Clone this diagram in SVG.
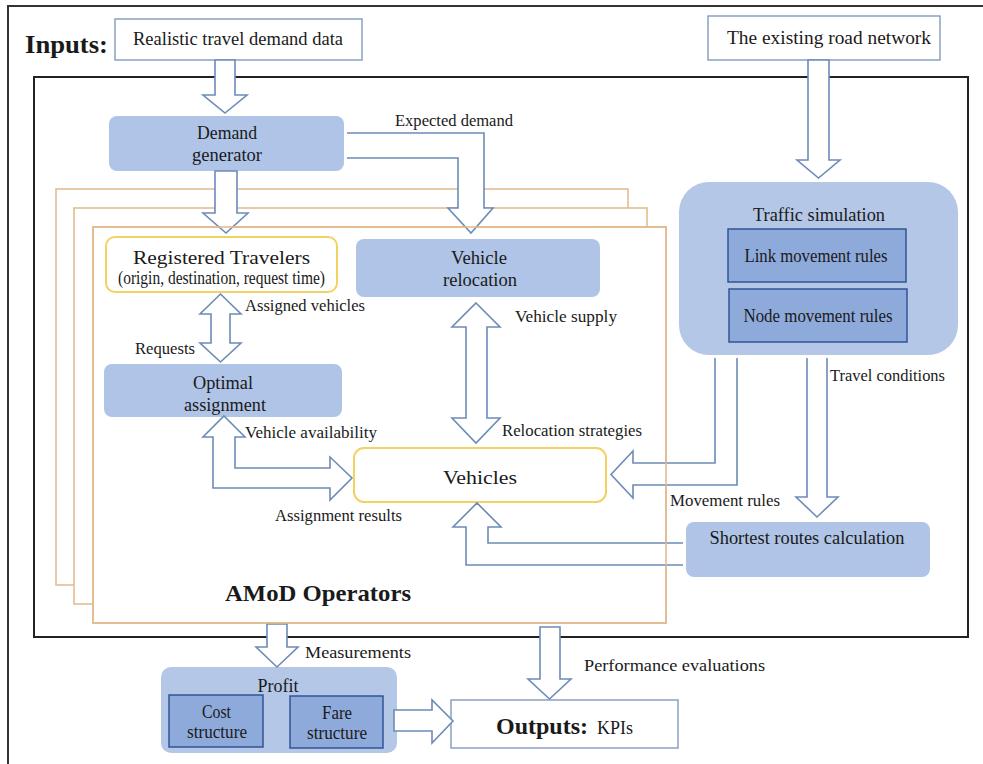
<svg xmlns="http://www.w3.org/2000/svg" width="983" height="764" viewBox="0 0 983 764">
<style>
text{font-family:"Liberation Serif","Times New Roman",serif;fill:#1a1a1a}
.t{font-size:18px;text-anchor:middle}
.lb{font-size:16.5px}
.bold{font-weight:bold}
.io{fill:#fff;stroke:#8aa0c4;stroke-width:1.5}
.blue{fill:#afc4e6;stroke:none}
.lite{fill:#b4c7e7;stroke:none}
.dark{fill:#8eaadb;stroke:#2f5597;stroke-width:1.5}
.yel{fill:#fff;stroke:#f2d262;stroke-width:2}
.fr{fill:#fff;stroke:#e2b98c;stroke-width:1.5}
.arr{fill:#fff;stroke:#6d8bb8;stroke-width:1.6;stroke-linejoin:miter}
</style>
<rect x="8" y="6" width="1000" height="800" fill="#fff" stroke="#333" stroke-width="2"/>
<rect x="34" y="77" width="934" height="560" fill="#fff" stroke="#222" stroke-width="2"/>

<g id="frames">
<rect class="fr" x="56" y="189" width="572" height="396"/>
<rect class="fr" x="74" y="208" width="573" height="396"/>
<rect class="fr" x="93" y="227" width="573" height="396"/>
</g>

<g id="inputs">
<text class="bold" x="25" y="53" font-size="26" textLength="83" lengthAdjust="spacingAndGlyphs">Inputs:</text>
</g>
<g id="realistic">
<rect class="io" x="115" y="19" width="247" height="41"/>
<text class="t" x="238" y="45" font-size="17" textLength="210" lengthAdjust="spacingAndGlyphs">Realistic travel demand data</text>
</g>
<g id="road">
<rect class="io" x="708" y="16" width="232" height="44"/>
<text class="t" x="829" y="44" font-size="17" textLength="204" lengthAdjust="spacingAndGlyphs">The existing road network</text>
</g>
<g id="demand">
<rect class="blue" x="109" y="116" width="235" height="55" rx="8"/>
<text class="t" x="227" y="139" textLength="60" lengthAdjust="spacingAndGlyphs">Demand</text>
<text class="t" x="227" y="161" textLength="70" lengthAdjust="spacingAndGlyphs">generator</text>
</g>
<g id="registered">
<rect class="yel" x="106" y="237" width="231" height="55" rx="9"/>
<text class="t" x="221.5" y="264" font-size="22" textLength="177" lengthAdjust="spacingAndGlyphs">Registered Travelers</text>
<text class="t" x="221.5" y="284" font-size="14.5" textLength="207" lengthAdjust="spacingAndGlyphs">(origin, destination, request time)</text>
</g>
<g id="relocation">
<rect class="blue" x="356" y="239" width="244" height="58" rx="8"/>
<text class="t" x="479" y="264" font-size="19" textLength="56" lengthAdjust="spacingAndGlyphs">Vehicle</text>
<text class="t" x="480" y="286" font-size="19" textLength="74" lengthAdjust="spacingAndGlyphs">relocation</text>
</g>
<g id="optimal">
<rect class="blue" x="104" y="364" width="238" height="53" rx="8"/>
<text class="t" x="223" y="389" textLength="60" lengthAdjust="spacingAndGlyphs">Optimal</text>
<text class="t" x="225" y="411" textLength="82" lengthAdjust="spacingAndGlyphs">assignment</text>
</g>
<g id="vehicles">
<rect class="yel" x="354" y="448" width="252" height="54" rx="10"/>
<text class="t" x="480" y="484" font-size="23" textLength="74" lengthAdjust="spacingAndGlyphs">Vehicles</text>
</g>
<g id="traffic">
<rect class="lite" x="679" y="182" width="279" height="173" rx="30"/>
<text class="t" x="819" y="221" textLength="132" lengthAdjust="spacingAndGlyphs">Traffic simulation</text>
</g>
<g id="link">
<rect class="dark" x="728" y="229" width="178" height="53"/>
<text class="t" x="816" y="262" font-size="17" textLength="143" lengthAdjust="spacingAndGlyphs">Link movement rules</text>
</g>
<g id="node">
<rect class="dark" x="729" y="289" width="178" height="53"/>
<text class="t" x="818" y="322" font-size="17" textLength="149" lengthAdjust="spacingAndGlyphs">Node movement rules</text>
</g>
<g id="shortest">
<rect class="blue" x="686" y="522" width="244" height="55" rx="8"/>
<text class="t" x="807" y="544" textLength="195" lengthAdjust="spacingAndGlyphs">Shortest routes calculation</text>
</g>
<g id="amod">
<text class="bold" x="318" y="601" font-size="24" text-anchor="middle" textLength="186" lengthAdjust="spacingAndGlyphs">AMoD Operators</text>
</g>
<g id="profit">
<rect class="lite" x="161" y="667" width="236" height="86" rx="10"/>
<text class="t" x="278" y="692" textLength="41" lengthAdjust="spacingAndGlyphs">Profit</text>
</g>
<g id="cost">
<rect class="dark" x="169" y="695" width="94" height="52"/>
<text class="t" x="216.5" y="718" font-size="17" textLength="29" lengthAdjust="spacingAndGlyphs">Cost</text>
<text class="t" x="217" y="738" font-size="17" textLength="60" lengthAdjust="spacingAndGlyphs">structure</text>
</g>
<g id="fare">
<rect class="dark" x="290" y="696" width="93" height="52"/>
<text class="t" x="337" y="719" font-size="17" textLength="30" lengthAdjust="spacingAndGlyphs">Fare</text>
<text class="t" x="337" y="739" font-size="17" textLength="60" lengthAdjust="spacingAndGlyphs">structure</text>
</g>
<g id="outputs">
<rect class="io" x="451" y="700" width="227" height="48"/>
<text x="496" y="734" font-size="24" class="bold" textLength="92" lengthAdjust="spacingAndGlyphs">Outputs:</text>
<text x="597" y="734" font-size="18" textLength="36" lengthAdjust="spacingAndGlyphs">KPIs</text>
</g>

<g id="connectors">
<path class="arr" d="M215,60 L235,60 L235,95 L247,95 L225,113 L203,95 L215,95 Z"/>
<path class="arr" d="M215,171 L237,171 L237,213 L248,213 L226,233 L203,213 L215,213 Z"/>
<path class="arr" d="M347,133 L484,133 L484,208 L493,208 L471,233 L448,208 L458,208 L458,158 L347,158"/>
<path class="arr" d="M220.5,294 L241,314 L230,314 L230,343 L241,343 L220.5,362 L200,343 L211,343 L211,314 L200,314 Z"/>
<path class="arr" d="M224,416 L245,437 L235,437 L235,468 L330,468 L330,457 L352,478 L330,500 L330,488 L213,488 L213,437 L203,437 Z"/>
<path class="arr" d="M476,303 L500,327 L487,327 L487,418 L500,418 L476,443 L452,418 L466,418 L466,327 L452,327 Z"/>
<path class="arr" d="M808,60 L829,60 L829,160 L840,160 L818.5,178 L797,160 L808,160 Z"/>
<path class="arr" d="M715,358 L715,463 L633,463 L633,451 L611,474.5 L633,498 L633,485 L737,485 L737,358"/>
<path class="arr" d="M807,358 L807,497 L796,497 L817,517 L838,497 L827,497 L827,358"/>
<path class="arr" d="M683,543 L488,543 L488,527 L501,527 L477,503 L453,527 L466,527 L466,565 L683,565"/>
<path class="arr" d="M267,624 L287,624 L287,647 L298,647 L277,667 L256,647 L267,647 Z"/>
<path class="arr" d="M540,627 L560,627 L560,679 L571,679 L549.5,699 L528,679 L540,679 Z"/>
<path class="arr" d="M394,710 L432,710 L432,700 L453,721 L432,743 L432,731 L394,731 Z"/>
<rect x="93" y="227" width="573" height="396" fill="none" stroke="#e2b98c" stroke-width="1.5"/>
</g>

<g id="labels">
<text class="lb" x="395" y="126" textLength="118" lengthAdjust="spacingAndGlyphs">Expected demand</text>
<text class="lb" x="245" y="311" textLength="120" lengthAdjust="spacingAndGlyphs">Assigned vehicles</text>
<text class="lb" x="135" y="354" textLength="60" lengthAdjust="spacingAndGlyphs">Requests</text>
<text class="lb" x="515" y="322" textLength="102" lengthAdjust="spacingAndGlyphs">Vehicle supply</text>
<text class="lb" x="245" y="438" textLength="132" lengthAdjust="spacingAndGlyphs">Vehicle availability</text>
<text class="lb" x="502" y="436" textLength="140" lengthAdjust="spacingAndGlyphs">Relocation strategies</text>
<text class="lb" x="275" y="521" textLength="127" lengthAdjust="spacingAndGlyphs">Assignment results</text>
<text class="lb" x="830" y="381" textLength="115" lengthAdjust="spacingAndGlyphs">Travel conditions</text>
<text class="lb" x="670" y="506" textLength="110" lengthAdjust="spacingAndGlyphs">Movement rules</text>
<text class="lb" x="305" y="658" textLength="106" lengthAdjust="spacingAndGlyphs">Measurements</text>
<text class="lb" x="584" y="671" textLength="181" lengthAdjust="spacingAndGlyphs">Performance evaluations</text>
</g>
</svg>
